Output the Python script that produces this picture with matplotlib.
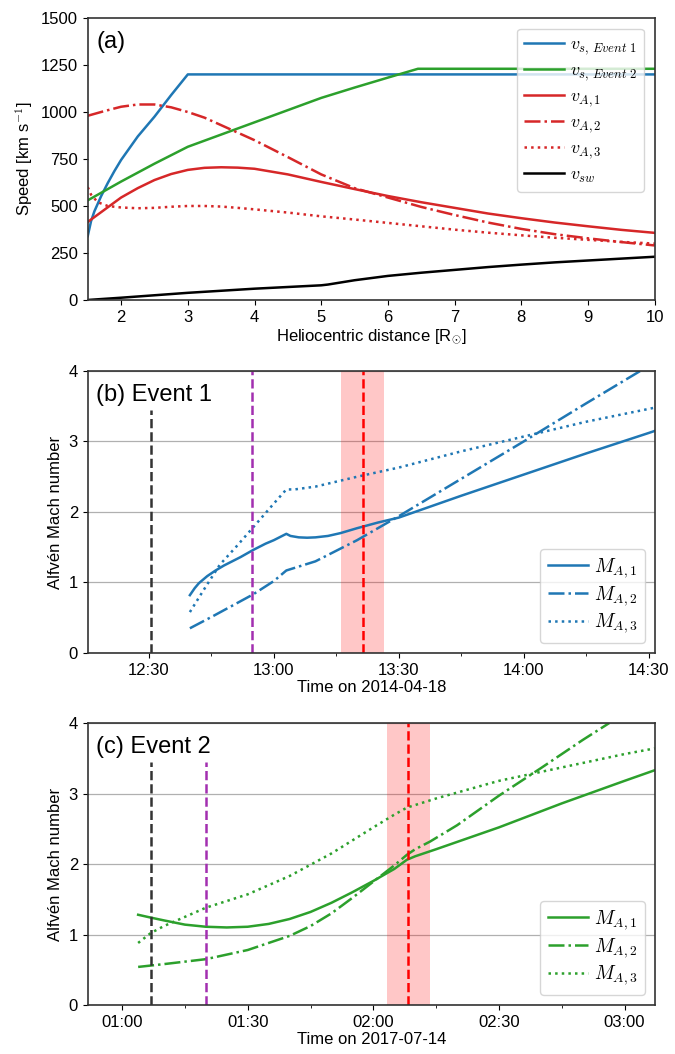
import matplotlib
matplotlib.use("Agg")
import matplotlib.pyplot as plt
import matplotlib.dates as mdates
import numpy as np
import pandas as pd

plt.rcParams['font.family'] = ['Liberation Sans', 'DejaVu Sans']
plt.rcParams['mathtext.fontset'] = 'cm'
plt.rcParams['font.size'] = 12

# ---- panel (a): speeds vs heliocentric distance ----
r_vs1 = [1.5, 1.55, 1.6, 1.7, 1.8, 1.9, 2.0, 2.25, 2.5, 2.75, 3.0, 10.0]
vs1 = [340, 420, 472, 552, 622, 686, 745, 870, 975, 1090, 1200, 1200]

r_vs2 = [1.5, 2.0, 2.5, 3.0, 3.5, 4.0, 4.5, 5.0, 5.5, 6.0, 6.45, 10.0]
vs2 = [530, 630, 725, 815, 880, 945, 1010, 1075, 1130, 1183, 1230, 1230]

r_va = [1.5, 1.75, 2.0, 2.25, 2.5, 2.75, 3.0, 3.25, 3.5, 3.75, 4.0, 4.5,
        5.0, 5.5, 6.0, 6.5, 7.0, 7.5, 8.0, 8.5, 9.0, 9.5, 10.0]
va1 = [415, 480, 545, 595, 638, 670, 692, 703, 706, 704, 698, 668,
       628, 590, 553, 520, 490, 460, 435, 412, 392, 373, 357]
va2 = [980, 1005, 1028, 1040, 1040, 1025, 1000, 970, 930, 890, 850, 760,
       668, 595, 545, 495, 452, 412, 378, 350, 328, 308, 290]

r_va3 = [1.5, 1.55, 1.65, 1.8, 2.0, 2.25, 2.5, 2.75, 3.0, 3.25, 3.5, 3.75,
         4.0, 4.5, 5.0, 5.5, 6.0, 6.5, 7.0, 7.5, 8.0, 8.5, 9.0, 9.5, 10.0]
va3 = [600, 560, 520, 500, 492, 488, 490, 496, 500, 500, 497, 490,
       482, 465, 445, 428, 410, 392, 374, 358, 344, 331, 320, 309, 300]

r_sw = [1.5, 2, 3, 4, 5, 5.1, 5.5, 6, 6.5, 7, 7.5, 8, 8.5, 9, 9.5, 10]
vsw = [0, 12, 38, 60, 78, 82, 105, 128, 145, 160, 175, 188, 200, 210, 220, 230]

# ---- panel (b): Event 1, 2014-04-18 ----
day1 = "2014-04-18 "
t1 = ["12:39:50", "12:41", "12:42", "12:44", "12:46", "12:48", "12:50", "12:52",
      "12:55", "12:58", "13:00", "13:03", "13:04", "13:06", "13:08", "13:10",
      "13:13", "13:16", "13:20", "13:25", "13:30", "13:45", "14:00", "14:15",
      "14:30", "14:31:30"]
m1_1 = [0.82, 0.92, 0.99, 1.09, 1.17, 1.24, 1.30, 1.36, 1.46, 1.55, 1.60, 1.69,
        1.66, 1.64, 1.635, 1.64, 1.66, 1.70, 1.77, 1.85, 1.92, 2.23, 2.53, 2.83,
        3.12, 3.15]
t1_2 = ["12:39:50", "12:45", "12:50", "12:55", "13:00", "13:03", "13:10",
        "13:20", "13:25", "13:30", "13:45", "14:00", "14:15", "14:28"]
m1_2 = [0.35, 0.51, 0.67, 0.83, 1.02, 1.17, 1.30, 1.60, 1.77, 1.94, 2.47,
        3.00, 3.54, 4.00]
t1_3 = ["12:39:50", "12:43", "12:47", "12:51", "12:55", "13:00", "13:03",
        "13:05", "13:10", "13:15", "13:20", "13:30", "13:45", "14:00",
        "14:15", "14:31:30"]
m1_3 = [0.58, 0.88, 1.25, 1.51, 1.78, 2.12, 2.32, 2.32, 2.36, 2.43, 2.50,
        2.63, 2.86, 3.07, 3.28, 3.48]
lines1 = {"black": "12:30:25", "purple": "12:54:45", "red": "13:21:20"}
span1 = ("13:16:05", "13:26:25")
xlim1 = ("12:15:18", "14:31:30")

# ---- panel (c): Event 2, 2017-07-14 ----
day2 = "2017-07-14 "
t2 = ["01:03:50", "01:06:50", "01:10", "01:15", "01:20", "01:25", "01:30",
      "01:35", "01:40", "01:45", "01:50", "01:55", "02:00", "02:05", "02:08",
      "02:10", "02:15", "02:30", "02:45", "03:00", "03:07:10"]
m2_1 = [1.28, 1.24, 1.20, 1.14, 1.11, 1.10, 1.11, 1.15, 1.22, 1.32, 1.45,
        1.60, 1.76, 1.93, 2.06, 2.11, 2.21, 2.52, 2.86, 3.18, 3.33]
t2_2 = ["01:03:50", "01:10", "01:20", "01:30", "01:40", "01:45", "01:50",
        "01:55", "02:00", "02:05", "02:08", "02:10", "02:13:35", "02:20",
        "02:30", "02:40", "02:50", "02:56:20"]
m2_2 = [0.54, 0.58, 0.65, 0.78, 0.98, 1.12, 1.30, 1.52, 1.75, 1.98, 2.13,
        2.21, 2.32, 2.55, 2.97, 3.36, 3.76, 4.00]
t2_3 = ["01:03:50", "01:06:50", "01:10", "01:15", "01:20", "01:30", "01:40",
        "01:50", "02:00", "02:05", "02:08", "02:15", "02:30", "02:45",
        "03:00", "03:07:10"]
m2_3 = [0.88, 1.02, 1.12, 1.25, 1.38, 1.57, 1.83, 2.15, 2.52, 2.70, 2.80,
        2.93, 3.18, 3.37, 3.56, 3.64]
lines2 = {"black": "01:06:50", "purple": "01:20:00", "red": "02:08:20"}
span2 = ("02:03:20", "02:13:35")
xlim2 = ("00:51:48", "03:07:12")


def ts(day, lst):
    return pd.to_datetime([day + s for s in lst], format="mixed")


fig = plt.figure(figsize=(6.75, 10.54), dpi=100)
axa = fig.add_axes([0.130, 0.7154, 0.840, 0.2675])
axb = fig.add_axes([0.130, 0.3805, 0.840, 0.2675])
axc = fig.add_axes([0.130, 0.0465, 0.840, 0.2675])

lw = 1.8
axa.plot(r_vs1, vs1, color="tab:blue", lw=lw, label=r"$v_{s,\,Event\ 1}$")
axa.plot(r_vs2, vs2, color="tab:green", lw=lw, label=r"$v_{s,\,Event\ 2}$")
axa.plot(r_va, va1, color="tab:red", lw=lw, label=r"$v_{A,1}$")
axa.plot(r_va, va2, color="tab:red", lw=lw, ls="-.", label=r"$v_{A,2}$")
axa.plot(r_va3, va3, color="tab:red", lw=lw, ls=":", label=r"$v_{A,3}$")
axa.plot(r_sw, vsw, color="black", lw=lw, label=r"$v_{sw}$")
axa.set_xlim(1.5, 10)
axa.set_ylim(0, 1500)
axa.set_yticks(np.arange(0, 1501, 250))
axa.set_xticks(range(2, 11))
axa.set_xlabel(r"Heliocentric distance [R$_{\odot}$]", labelpad=2)
axa.set_ylabel(r"Speed [km s$^{-1}$]")
axa.text(0.015, 0.955, "(a)", transform=axa.transAxes, fontsize=17, va="top")
axa.legend(loc="upper right", fontsize=13, handlelength=2.2, handletextpad=0.3,
           borderaxespad=0.6, labelspacing=0.3)


def mach_panel(ax, day, color, series, vlines, span):
    for t, m, ls, lab in series:
        ax.plot(ts(day, t), m, color=color, lw=lw, ls=ls, label=lab)
    vx = {k: ts(day, [v])[0] for k, v in vlines.items()}
    s0, s1 = ts(day, list(span))
    ax.axvspan(s0, s1, color="red", alpha=0.22, lw=0)
    ax.axvline(vx["black"], ymin=0, ymax=3.45 / 4, color="#333333", ls="--", lw=1.8)
    ax.axvline(vx["red"], color="red", ls="--", lw=1.8)
    return vx


series1 = [(t1, m1_1, "-", r"$M_{A,1}$"), (t1_2, m1_2, "-.", r"$M_{A,2}$"),
           (t1_3, m1_3, ":", r"$M_{A,3}$")]
series2 = [(t2, m2_1, "-", r"$M_{A,1}$"), (t2_2, m2_2, "-.", r"$M_{A,2}$"),
           (t2_3, m2_3, ":", r"$M_{A,3}$")]

vx1 = mach_panel(axb, day1, "tab:blue", series1, lines1, span1)
axb.axvline(vx1["purple"], color="#a22fb0", ls="--", lw=1.8)
vx2 = mach_panel(axc, day2, "tab:green", series2, lines2, span2)
axc.axvline(vx2["purple"], ymin=0, ymax=3.45 / 4, color="#a22fb0", ls="--", lw=1.8)

for ax, day, xl, lab, xlab in [(axb, day1, xlim1, "(b) Event 1", "Time on 2014-04-18"),
                               (axc, day2, xlim2, "(c) Event 2", "Time on 2017-07-14")]:
    x0, x1 = ts(day, list(xl))
    ax.set_xlim(x0, x1)
    ax.set_ylim(0, 4)
    ax.set_yticks(range(0, 5))
    ax.grid(axis="y", color="#b0b0b0", lw=0.9)
    ax.set_axisbelow(True)
    ax.xaxis.set_major_locator(mdates.MinuteLocator(byminute=[0, 30]))
    ax.xaxis.set_minor_locator(mdates.MinuteLocator(byminute=[15, 45]))
    ax.xaxis.set_major_formatter(mdates.DateFormatter("%H:%M"))
    ax.set_xlabel(xlab, labelpad=2)
    ax.set_ylabel("Alfvén Mach number")
    ax.text(0.015, 0.955, lab, transform=ax.transAxes, fontsize=17, va="top")
    ax.legend(loc="lower right", fontsize=14, handlelength=2.05, handletextpad=0.3,
              labelspacing=0.2, borderaxespad=0.5)

for ax in (axa, axb, axc):
    for sp in ax.spines.values():
        sp.set_color("#333333")
        sp.set_linewidth(1.2)
    ax.tick_params(labelsize=12)

fig.savefig("out.png", dpi=100)
